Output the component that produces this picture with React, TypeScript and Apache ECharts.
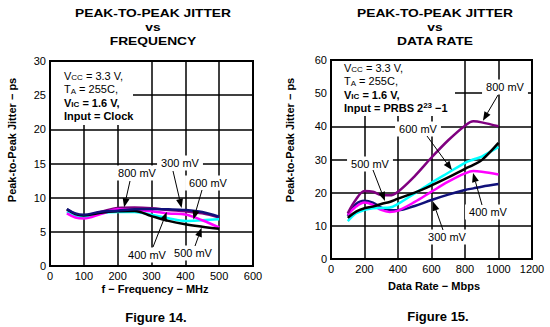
import React, { useEffect, useRef } from "react";
import * as echarts from "echarts";

const freqMHz = [50, 75, 100, 150, 200, 250, 300, 350, 400, 450, 500];
const freq300 = [8.35, 7.7, 7.5, 7.95, 8.1, 8.3, 8.35, 8.3, 8.2, 7.9, 7.2];
const freq400 = [7.7, 7.1, 6.95, 7.6, 8.3, 8.2, 8.0, 7.7, 7.55, 6.7, 5.65];
const freq500 = [8.3, 7.6, 7.4, 7.8, 8.0, 8.05, 7.3, 6.6, 6.1, 5.75, 5.45];
const freq600 = [7.9, 7.3, 7.2, 7.7, 7.9, 7.9, 7.5, 7.0, 6.6, 6.7, 6.85];
const freq800 = [8.2, 7.6, 7.4, 7.9, 8.5, 8.55, 8.45, 8.2, 8.0, 7.7, 7.1];

const rateMbps = [100, 150, 200, 250, 300, 350, 400, 500, 600, 700, 800, 850, 900, 1000];
const rate300 = [13.0, 16.6, 17.6, 17.0, 15.5, 14.8, 14.7, 16.0, 17.8, 19.4, 20.8, 21.3, 21.8, 22.6];
const rate400 = [13.3, 15.8, 17.0, 16.3, 14.8, 14.2, 14.6, 17.2, 20.3, 23.3, 25.8, 26.5, 26.3, 25.5];
const rate500 = [12.4, 14.3, 15.3, 15.8, 16.6, 17.2, 18.2, 20.0, 22.2, 24.6, 27.2, 28.4, 29.8, 35.0];
const rate600 = [11.4, 13.8, 14.8, 15.3, 15.4, 15.5, 16.6, 19.8, 23.0, 26.0, 29.0, 30.0, 30.9, 33.8];
const rate800 = [13.8, 18.0, 20.5, 20.3, 19.3, 19.2, 20.3, 25.0, 30.6, 35.8, 40.2, 41.5, 41.2, 40.0];

const seriesNames = ["300 mV", "400 mV", "500 mV", "600 mV", "800 mV"];
const seriesColors = ["#10107a", "#ff00ff", "#000000", "#00ffff", "#800080"];

const leftTitle = ["PEAK-TO-PEAK JITTER", "vs", "FREQUENCY"];
const rightTitle = ["PEAK-TO-PEAK JITTER", "vs", "DATA RATE"];

// annotation: label text, label centre (px), arrow start (px), arrow tip in data coords
const leftNotes = [
  { text: "800 mV", label: [137, 173], from: [130, 181], tip: [219, 8.6] },
  { text: "300 mV", label: [180, 163], from: [173, 171], tip: [389, 8.5] },
  { text: "600 mV", label: [208, 183], from: [202, 190], tip: [424, 6.8] },
  { text: "400 mV", label: [147, 255], from: [153, 247], tip: [345, 7.9] },
  { text: "500 mV", label: [193, 253], from: [195, 246], tip: [448, 5.6] },
];
const rightNotes = [
  { text: "800 mV", label: [505, 87], from: [498, 95], tip: [907, 41.7] },
  { text: "600 mV", label: [418, 129], from: [427, 136], tip: [722, 26.8] },
  { text: "500 mV", label: [370, 164], from: [373, 170], tip: [322, 17.5] },
  { text: "400 mV", label: [488, 212], from: [482, 205], tip: [848, 25.9] },
  { text: "300 mV", label: [447, 237], from: [443, 230], tip: [609, 17.3] },
];

const FONT = "'Liberation Sans', Arial, sans-serif";

export default function App() {
  const ref = useRef<HTMLDivElement>(null);
  useEffect(() => {
    if (!ref.current) return;
    const chart = echarts.init(ref.current, undefined, { renderer: "svg" });
    const axisLabel = { color: "#000", fontSize: 11, fontFamily: FONT, margin: 4, formatter: (v: number) => String(v) };
    const splitLine = { show: true, lineStyle: { color: "#000", width: 1.5 } };
    const mkSeries = (idx: number, xs: number[], ys: number[][]) =>
      ys.map((vals, i) => ({
        type: "line",
        name: seriesNames[i],
        xAxisIndex: idx,
        yAxisIndex: idx,
        data: xs.map((x, j) => [x, vals[j]]),
        smooth: 0.35,
        showSymbol: false,
        lineStyle: { color: seriesColors[i], width: 2.5 },
        z: 3,
      }));
    const leftSeries = mkSeries(0, freqMHz, [freq300, freq400, freq500, freq600, freq800]);
    const rightSeries = mkSeries(1, rateMbps, [rate300, rate400, rate500, rate600, rate800]);
    const leftOrdered = [leftSeries[4], leftSeries[3], leftSeries[1], leftSeries[2], leftSeries[0]];
    const rightOrdered = [rightSeries[0], rightSeries[1], rightSeries[3], rightSeries[2], rightSeries[4]];

    chart.setOption({
      animation: false,
      backgroundColor: "#fff",
      grid: [
        { left: 50, top: 61, width: 203, height: 205, show: true, borderColor: "#000", borderWidth: 2, backgroundColor: "transparent" },
        { left: 331, top: 60, width: 201, height: 199, show: true, borderColor: "#000", borderWidth: 2, backgroundColor: "transparent" },
      ],
      xAxis: [
        { type: "value", gridIndex: 0, min: 0, max: 600, interval: 100, axisLine: { show: false }, axisTick: { show: false }, axisLabel, splitLine },
        { type: "value", gridIndex: 1, min: 0, max: 1200, interval: 200, axisLine: { show: false }, axisTick: { show: false }, axisLabel, splitLine },
      ],
      yAxis: [
        { type: "value", gridIndex: 0, min: 0, max: 30, interval: 5, axisLine: { show: false }, axisTick: { show: false }, axisLabel, splitLine },
        { type: "value", gridIndex: 1, min: 0, max: 60, interval: 10, axisLine: { show: false }, axisTick: { show: false }, axisLabel, splitLine },
      ],
      series: [...leftOrdered, ...rightOrdered],
    });

    const graphics: any[] = [];
    // titles
    const titleStyle = { fontSize: 11.5, fontWeight: "bold", fontFamily: FONT, fill: "#000", align: "center", verticalAlign: "middle" };
    const titleY = [13, 27, 41];
    leftTitle.forEach((t, i) => graphics.push({ type: "text", x: 153, y: titleY[i], scaleX: 1.2, z: 11, style: { ...titleStyle, text: t } }));
    rightTitle.forEach((t, i) => graphics.push({ type: "text", x: 435, y: titleY[i], scaleX: 1.2, z: 11, style: { ...titleStyle, text: t } }));
    // info boxes
    const rich = {
      n: { fontSize: 11, fontFamily: FONT, fill: "#000", lineHeight: 13.5 },
      s: { fontSize: 8, fontFamily: FONT, fill: "#000", lineHeight: 13.5, padding: [4, 0, 0, 0] },
      b: { fontSize: 11, fontFamily: FONT, fontWeight: "bold", fill: "#000", lineHeight: 13.5 },
      bs: { fontSize: 8, fontFamily: FONT, fontWeight: "bold", fill: "#000", lineHeight: 13.5, padding: [4, 0, 0, 0] },
      sup: { fontSize: 8, fontFamily: FONT, fontWeight: "bold", fill: "#000", lineHeight: 13.5, padding: [0, 0, 5, 0] },
    };
    graphics.push({ type: "rect", shape: { x: 51, y: 62, width: 82, height: 63 }, style: { fill: "#fff" }, z: 10 });
    graphics.push({ type: "rect", shape: { x: 332, y: 61, width: 123, height: 55 }, style: { fill: "#fff" }, z: 10 });
    graphics.push({
      type: "text", x: 64, y: 69, z: 11,
      style: { text: "{n|V}{s|CC}{n| = 3.3 V,}\n{n|T}{s|A}{n| = 255C,}\n{b|V}{bs|IC}{b| = 1.6 V,}\n{b|Input = Clock}", rich },
    });
    graphics.push({
      type: "text", x: 344, y: 61, z: 11,
      style: { text: "{n|V}{s|CC}{n| = 3.3 V,}\n{n|T}{s|A}{n| = 255C,}\n{b|V}{bs|IC}{b| = 1.6 V,}\n{b|Input = PRBS 2}{sup|23}{b| −1}", rich },
    });
    // axis names
    const nameStyle = { fontSize: 11, fontWeight: "bold", fontFamily: FONT, fill: "#000", align: "center", verticalAlign: "middle" };
    graphics.push({ type: "text", x: 155, y: 289, z: 11, style: { ...nameStyle, text: "f − Frequency − MHz" } });
    graphics.push({ type: "text", x: 434, y: 286, z: 11, style: { ...nameStyle, text: "Data Rate − Mbps" } });
    graphics.push({ type: "text", x: 12, y: 140, rotation: Math.PI / 2, z: 11, style: { ...nameStyle, text: "Peak-to-Peak Jitter − ps" } });
    graphics.push({ type: "text", x: 290, y: 140, rotation: Math.PI / 2, z: 11, style: { ...nameStyle, text: "Peak-to-Peak Jitter − ps" } });
    // figure captions
    const figStyle = { fontSize: 13, fontWeight: "bold", fontFamily: FONT, fill: "#000", align: "center", verticalAlign: "middle" };
    graphics.push({ type: "text", x: 156, y: 317, z: 11, style: { ...figStyle, text: "Figure 14." } });
    graphics.push({ type: "text", x: 438, y: 316, z: 11, style: { ...figStyle, text: "Figure 15." } });

    const addNotes = (notes: typeof leftNotes, gridIndex: number) => {
      notes.forEach((nt) => {
        const tip = chart.convertToPixel({ gridIndex } as any, nt.tip) as number[];
        const [fx, fy] = nt.from;
        const dx = tip[0] - fx;
        const dy = tip[1] - fy;
        const len = Math.sqrt(dx * dx + dy * dy) || 1;
        const ux = dx / len;
        const uy = dy / len;
        const hl = 9;
        const hw = 3.5;
        const bx = tip[0] - ux * hl;
        const by = tip[1] - uy * hl;
        graphics.push({
          type: "text", x: nt.label[0], y: nt.label[1], z: 20,
          style: {
            text: nt.text, fontSize: 11, fontFamily: FONT, fill: "#000", align: "center", verticalAlign: "middle",
            backgroundColor: "#fff", padding: [2, 4],
          },
        });
        graphics.push({ type: "line", z: 21, shape: { x1: fx, y1: fy, x2: bx, y2: by }, style: { stroke: "#000", lineWidth: 1 } });
        graphics.push({
          type: "polygon", z: 21,
          shape: { points: [[tip[0], tip[1]], [bx - uy * hw, by + ux * hw], [bx + uy * hw, by - ux * hw]] },
          style: { fill: "#000" },
        });
      });
    };
    addNotes(leftNotes, 0);
    addNotes(rightNotes, 1);
    chart.setOption({ graphic: graphics });
    return () => chart.dispose();
  }, []);
  return <div ref={ref} style={{ width: 550, height: 327, position: "absolute", left: 0, top: 0 }} />;
}
